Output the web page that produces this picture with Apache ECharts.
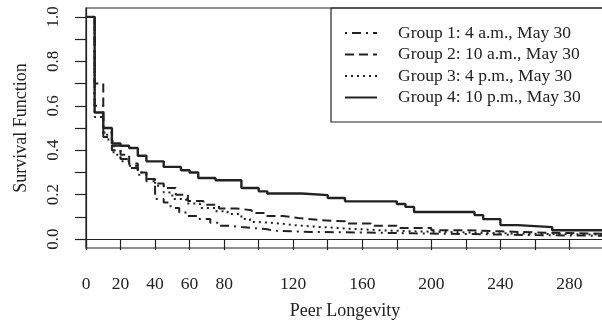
<!DOCTYPE html>
<html>
<head>
<meta charset="utf-8">
<script src="https://cdn.jsdelivr.net/npm/echarts@6/dist/echarts.min.js"></script>
<style>
  html, body { margin: 0; padding: 0; background: #fff; }
  #chart { width: 602px; height: 321px; }
</style>
</head>
<body>
<div id="chart"></div>
<script>
// group names as in the legend
const groupNames = [
  'Group 1: 4 a.m., May 30',
  'Group 2: 10 a.m., May 30',
  'Group 3: 4 p.m., May 30',
  'Group 4: 10 p.m., May 30',
]

// step curves: times at which the survival drops, and the value after the drop
const g1Times = [0, 5, 10, 15, 20, 25, 30, 35, 40, 45, 49, 54, 59, 65, 72, 77, 84, 90, 97, 104, 111, 130, 160, 190, 230, 260]
const g1Surv = [1.0, 0.60, 0.46, 0.40, 0.36, 0.32, 0.29, 0.26, 0.18, 0.165, 0.14, 0.12, 0.104, 0.09, 0.074, 0.06, 0.054, 0.05, 0.045, 0.037, 0.032, 0.03, 0.026, 0.022, 0.018, 0.015]

const g2Times = [0, 5, 10, 15, 20, 25, 30, 35, 40, 45, 52, 59, 68, 77, 87, 96, 104, 114, 123, 135, 150, 165, 180, 200, 220, 240, 260, 280]
const g2Surv = [1.0, 0.70, 0.48, 0.42, 0.38, 0.34, 0.30, 0.27, 0.25, 0.23, 0.20, 0.172, 0.155, 0.138, 0.13, 0.117, 0.104, 0.095, 0.086, 0.08, 0.07, 0.06, 0.05, 0.04, 0.035, 0.03, 0.027, 0.024]

const g3Times = [0, 5, 10, 13, 16, 20, 25, 30, 35, 40, 45, 50, 58, 66, 75, 82, 90, 95, 100, 110, 115, 120, 135, 150, 170, 190, 220, 250, 280]
const g3Surv = [1.0, 0.55, 0.47, 0.44, 0.38, 0.35, 0.33, 0.30, 0.27, 0.24, 0.21, 0.18, 0.16, 0.14, 0.125, 0.113, 0.09, 0.077, 0.072, 0.068, 0.063, 0.055, 0.048, 0.04, 0.035, 0.03, 0.025, 0.022, 0.02]

const g4Times = [0, 5, 10, 15, 20, 25, 30, 35, 45, 55, 60, 65, 75, 90, 100, 105, 125, 140, 150, 180, 185, 190, 225, 230, 240, 250, 270]
const g4Surv = [1.0, 0.57, 0.50, 0.43, 0.42, 0.41, 0.375, 0.35, 0.325, 0.31, 0.30, 0.275, 0.265, 0.23, 0.215, 0.205, 0.198, 0.185, 0.17, 0.158, 0.145, 0.122, 0.108, 0.09, 0.063, 0.054, 0.04]

const X_END = 300
const xTicks = [0, 20, 40, 60, 80, 100, 120, 140, 160, 180, 200, 220, 240, 260, 280]
const xLabels = [0, 20, 40, 60, 80, 120, 160, 200, 240, 280]
const yTicks = [0, 0.1, 0.2, 0.3, 0.4, 0.5, 0.6, 0.7, 0.8, 0.9, 1.0]
const yLabels = [0, 0.2, 0.4, 0.6, 0.8, 1.0]

const INK = '#222'
const FONT = '"Liberation Serif", "DejaVu Serif", serif'

function steps(times, surv) {
  const pts = times.map((t, i) => [t, surv[i]])
  pts.push([X_END, surv[surv.length - 1]])
  return pts
}

const dashTypes = [[2, 5, 9, 5], [9, 5], [2, 4], 'solid']
const widths = [2, 2, 2, 2.4]
const curves = [
  steps(g1Times, g1Surv),
  steps(g2Times, g2Surv),
  steps(g3Times, g3Surv),
  steps(g4Times, g4Surv),
]

const chart = echarts.init(document.getElementById('chart'))
chart.setOption({
  animation: false,
  textStyle: { fontFamily: FONT, color: INK },
  grid: {
    left: 86, top: 8, width: 518, height: 240,
    containLabel: false, outerBoundsMode: 'none',
    show: true, borderColor: INK, borderWidth: 1.2,
  },
  legend: {
    orient: 'vertical',
    left: 344, top: 24,
    padding: 0,
    itemWidth: 32, itemHeight: 14, itemGap: 3.5,
    itemStyle: { opacity: 0 },
    textStyle: { fontFamily: FONT, fontSize: 17.5, color: INK, padding: [0, 0, 0, 16] },
    data: groupNames,
  },
  graphic: [{
    type: 'rect',
    shape: { x: 331, y: 8, width: 300, height: 114 },
    style: { fill: 'none', stroke: INK, lineWidth: 1.2 },
    silent: true,
  }],
  xAxis: {
    type: 'value',
    min: 0, max: X_END,
    name: 'Peer Longevity',
    nameLocation: 'middle',
    nameGap: 54,
    nameTextStyle: { fontFamily: FONT, fontSize: 18, color: INK },
    axisLine: { show: true, lineStyle: { color: INK, width: 1.2 } },
    axisTick: { show: true, length: 11, customValues: xTicks, lineStyle: { color: INK, width: 1.2 } },
    axisLabel: { customValues: xLabels, margin: 27, fontFamily: FONT, fontSize: 17.5, color: INK },
    splitLine: { show: false },
  },
  yAxis: {
    type: 'value',
    min: -0.04, max: 1.04,
    name: 'Survival Function',
    nameLocation: 'middle',
    nameGap: 56,
    nameTextStyle: { fontFamily: FONT, fontSize: 18, color: INK },
    axisLine: { show: true, lineStyle: { color: INK, width: 1.2 } },
    axisTick: { show: true, length: 11, customValues: yTicks, lineStyle: { color: INK, width: 1.2 } },
    axisLabel: {
      customValues: yLabels, rotate: 90, margin: 24,
      fontFamily: FONT, fontSize: 17, color: INK,
      formatter: (v) => v.toFixed(1),
    },
    splitLine: { show: false },
  },
  series: curves.map((pts, i) => ({
    name: groupNames[i],
    type: 'line',
    step: 'end',
    symbol: 'none',
    data: pts,
    itemStyle: { color: INK },
    lineStyle: { color: INK, width: widths[i], type: dashTypes[i], cap: 'butt' },
    z: 2 + (3 - i),
  })),
})
</script>
</body>
</html>
